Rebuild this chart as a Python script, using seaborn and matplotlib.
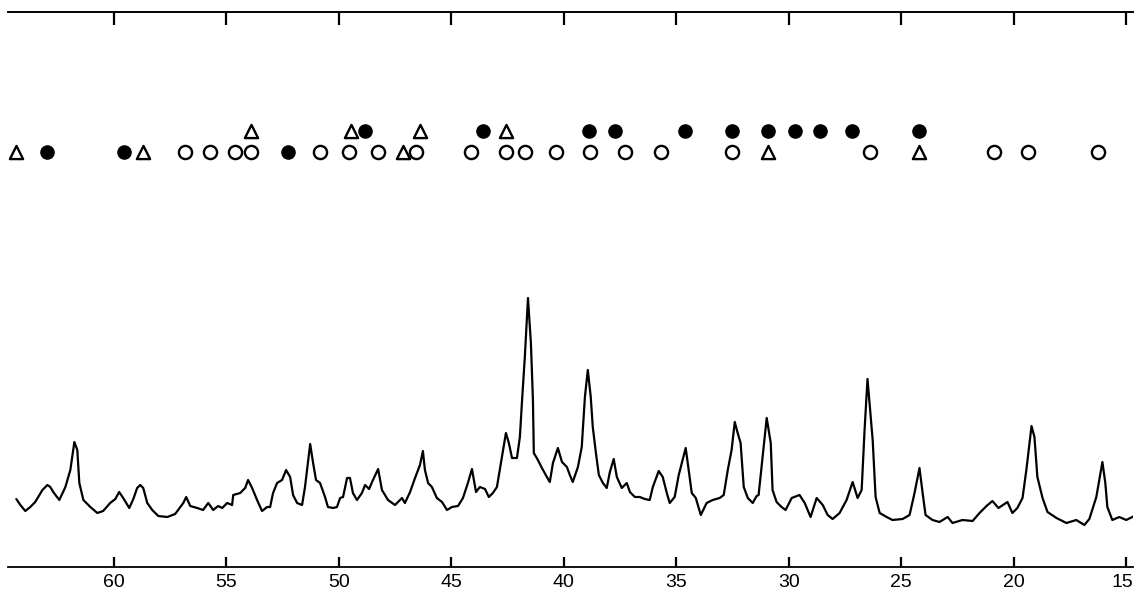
import matplotlib
matplotlib.use("Agg")
import matplotlib.pyplot as plt
import matplotlib.transforms as mtransforms
import seaborn as sns
import pandas as pd

# ---- data (2-theta in degrees, intensity in arbitrary counts) ----
two_theta = [
    64.33, 64.15, 63.93, 63.71, 63.49, 63.17, 62.95, 62.82, 62.69, 62.42,
    62.15, 61.93, 61.75, 61.62, 61.53, 61.35, 61.04, 60.73, 60.47, 60.16,
    59.93, 59.76, 59.58, 59.31, 59.13, 58.96, 58.82, 58.69, 58.51, 58.29,
    58.02, 57.62, 57.27, 57.14, 56.91, 56.78, 56.60, 56.29, 56.03, 55.80,
    55.58, 55.36, 55.18, 54.96, 54.74, 54.69, 54.38, 54.16, 54.03, 53.85,
    53.63, 53.41, 53.18, 53.05, 52.92, 52.74, 52.52, 52.34,
    52.16, 52.03, 51.85, 51.63, 51.50, 51.27, 51.14, 51.01, 50.83, 50.61,
    50.48, 50.25, 50.08, 49.94, 49.81, 49.63, 49.50, 49.37, 49.19, 48.97,
    48.83, 48.65, 48.52, 48.25, 48.08, 47.81, 47.50, 47.19, 47.06, 46.83,
    46.61, 46.39, 46.26, 46.17, 46.03, 45.86, 45.64, 45.41, 45.19, 44.97,
    44.70, 44.48, 44.26, 44.08, 43.90, 43.73, 43.50, 43.33, 43.15, 42.97,
    42.79, 42.57, 42.44, 42.30, 42.08, 41.95, 41.86, 41.73, 41.59, 41.46,
    41.37, 41.33, 41.15, 40.97, 40.75, 40.62, 40.48, 40.26, 40.08, 39.86,
    39.73, 39.60, 39.37, 39.20, 39.06, 38.93, 38.80, 38.71, 38.57, 38.44,
    38.26, 38.09, 37.95, 37.78, 37.64, 37.42, 37.20, 37.06, 36.84, 36.62,
    36.40, 36.18, 36.04, 35.78, 35.60, 35.42, 35.29, 35.07, 34.89, 34.58,
    34.49, 34.31, 34.13, 33.91, 33.65, 33.38, 33.07, 32.89, 32.71, 32.54,
    32.40, 32.27, 32.14, 32.00, 31.82, 31.60, 31.43, 31.34, 31.16, 30.98,
    30.80, 30.72, 30.54, 30.32, 30.14, 29.87, 29.52, 29.29, 29.03, 28.76,
    28.49, 28.27, 28.05, 27.74, 27.43,
    27.16, 26.94, 26.76, 26.63, 26.50, 26.41, 26.27, 26.14, 25.96, 25.65,
    25.39, 24.94, 24.63, 24.41, 24.19, 24.05, 23.92, 23.61, 23.30, 22.94,
    22.72, 22.28, 21.83, 21.52, 21.21, 20.95, 20.68, 20.28, 20.06, 19.84,
    19.61, 19.44, 19.21, 19.08, 18.95, 18.72, 18.50, 18.10, 17.66, 17.22,
    16.86, 16.64, 16.33, 16.06, 15.93, 15.84, 15.62, 15.31, 15.00, 14.64,
]
intensity = [
    68, 62, 56, 60, 65, 77, 82, 80, 75, 67,
    80, 97, 125, 117, 84, 67, 60, 54, 56, 64,
    68, 75, 69, 59, 68, 79, 82, 79, 64, 57,
    51, 50, 53, 57, 64, 70, 61, 59, 57, 64,
    57, 61, 59, 64, 62, 72, 74, 79, 87, 79,
    67, 56, 60, 60, 74, 84, 87, 97,
    90, 72, 64, 62, 80, 123, 104, 87, 84, 70,
    60, 59, 60, 69, 70, 89, 89, 74, 67, 74,
    82, 78, 85, 98, 77, 67, 62, 69, 64, 75,
    89, 102, 116, 97, 84, 80, 69, 65, 57, 60,
    61, 69, 84, 98, 75, 80, 78, 70, 74, 80,
    104, 134, 124, 109, 109, 130, 164, 210, 269, 224,
    167, 114, 107, 99, 90, 85, 104, 119, 105, 100,
    92, 85, 100, 120, 170, 197, 170, 140, 114, 92,
    84, 79, 95, 108, 90, 79, 84, 75, 70, 70,
    68, 67, 80, 96, 90, 74, 64, 70, 92, 119,
    104, 74, 69, 52, 64, 67, 69, 72, 97, 117,
    145, 134, 124, 80, 69, 64, 71, 72, 110, 149,
    124, 77, 65, 60, 57, 69, 72, 64, 50, 69,
    62, 52, 48, 54, 67,
    85, 69, 77, 137, 188, 164, 127, 70, 54, 50,
    47, 48, 52, 74, 99, 74, 52, 47, 45, 50,
    44, 47, 46, 54, 61, 66, 59, 65, 54, 59,
    69, 97, 141, 130, 90, 69, 55, 49, 44, 47,
    42, 48, 70, 105, 84, 60, 47, 50, 47, 51,
]

# phase markers (2-theta positions) in two rows
tri_upper = [53.89, 49.45, 46.39, 42.57]
tri_lower = [64.33, 58.69, 47.15, 30.94, 24.19]
dot_upper = [48.83, 43.59, 38.88, 37.73, 34.62, 32.53, 30.94, 29.74, 28.59, 27.17, 24.19]
dot_lower = [62.95, 59.53, 52.25]
ring_lower = [56.83, 55.71, 54.60, 53.89, 50.83, 49.54, 48.25, 46.57, 44.13, 42.57,
              41.73, 40.35, 38.84, 37.28, 35.68, 32.53, 26.40, 20.89, 19.38, 16.27]
row_upper = 436
row_lower = 415

xticks = [60, 55, 50, 45, 40, 35, 30, 25, 20, 15]

# ---- figure ----
sns.set_theme(style="white")
plt.rcParams["font.family"] = ["Liberation Sans Narrow", "Liberation Sans", "DejaVu Sans"]

fig = plt.figure(figsize=(11.35, 5.94), dpi=100)
ax = fig.add_axes([8 / 1135, 27 / 594, 1125 / 1135, 555 / 594])

curve = pd.DataFrame({"two_theta": two_theta, "intensity": intensity})
sns.lineplot(data=curve, x="two_theta", y="intensity", ax=ax, color="black",
             linewidth=1.6, estimator=None, sort=False)

def markers(xs, y, marker, filled):
    df = pd.DataFrame({"x": xs, "y": [y] * len(xs)})
    if filled:
        sns.scatterplot(data=df, x="x", y="y", ax=ax, marker=marker, s=90,
                        color="black", edgecolor="black", linewidth=1.0, zorder=3)
    else:
        sns.scatterplot(data=df, x="x", y="y", ax=ax, marker=marker, s=90,
                        facecolor="white", edgecolor="black", linewidth=1.7, zorder=3)

markers(tri_upper, row_upper, "^", False)
markers(tri_lower, row_lower, "^", False)
markers(dot_upper, row_upper, "o", True)
markers(dot_lower, row_lower, "o", True)
markers(ring_lower, row_lower, "o", False)

ax.set_xlim(64.7, 14.7)
ax.set_ylim(0, 555)
ax.set_xlabel("")
ax.set_ylabel("")
ax.set_yticks([])
ax.set_xticks(xticks)
ax.set_xticklabels([str(t) for t in xticks], fontsize=14)
ax.tick_params(axis="x", direction="in", length=7, width=1.6, pad=5,
               bottom=True, top=False, colors="black")
# nudge the rightmost label slightly left so it stays inside the figure
last = ax.get_xticklabels()[-1]
last.set_transform(last.get_transform() +
                   mtransforms.ScaledTranslation(-4 / 100, 0, fig.dpi_scale_trans))

for side in ["left", "right"]:
    ax.spines[side].set_visible(False)
for side in ["top", "bottom"]:
    ax.spines[side].set_visible(True)
    ax.spines[side].set_color("black")
    ax.spines[side].set_linewidth(1.3)

top = ax.secondary_xaxis("top")
top.set_xticks(xticks)
top.set_xticklabels([])
top.tick_params(axis="x", direction="in", length=9, width=1.6, colors="black")
top.spines["top"].set_linewidth(1.3)

fig.savefig("out.png", dpi=100, facecolor="white")
